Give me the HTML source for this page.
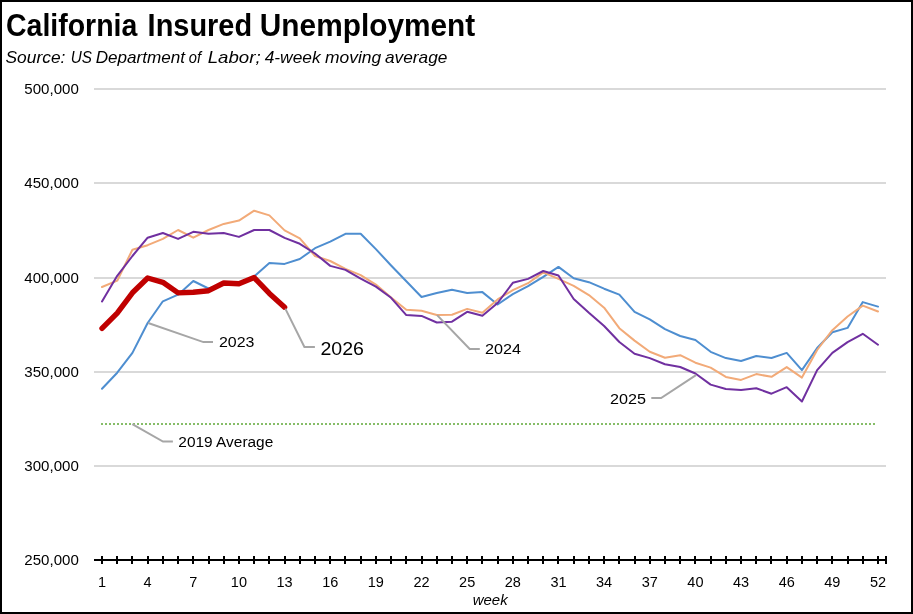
<!DOCTYPE html>
<html><head><meta charset="utf-8"><style>
html,body{margin:0;padding:0;background:#fff;}
svg{display:block;will-change:transform;}
text{font-family:"Liberation Sans", sans-serif;fill:#000;}
</style></head><body>
<svg width="913" height="614" viewBox="0 0 913 614">
<rect x="0" y="0" width="913" height="614" fill="#fff"/>
<rect x="1" y="1" width="911" height="612" fill="none" stroke="#000" stroke-width="2"/>
<text x="6.00" y="35.8" font-size="30.5" font-weight="bold" textLength="131.34" lengthAdjust="spacingAndGlyphs">California</text>
<text x="147.60" y="35.8" font-size="30.5" font-weight="bold" textLength="104.57" lengthAdjust="spacingAndGlyphs">Insured</text>
<text x="259.80" y="35.8" font-size="30.5" font-weight="bold" textLength="215.46" lengthAdjust="spacingAndGlyphs">Unemployment</text>
<text x="5.50" y="63.1" font-size="16.5" font-style="italic" textLength="59.90" lengthAdjust="spacingAndGlyphs">Source:</text>
<text x="70.80" y="63.1" font-size="16.5" font-style="italic" textLength="21.18" lengthAdjust="spacingAndGlyphs">US</text>
<text x="95.70" y="63.1" font-size="16.5" font-style="italic" textLength="89.40" lengthAdjust="spacingAndGlyphs">Department</text>
<text x="188.80" y="63.1" font-size="16.5" font-style="italic" textLength="12.26" lengthAdjust="spacingAndGlyphs">of</text>
<text x="207.70" y="63.1" font-size="16.5" font-style="italic" textLength="52.93" lengthAdjust="spacingAndGlyphs">Labor;</text>
<text x="264.70" y="63.1" font-size="16.5" font-style="italic" textLength="55.95" lengthAdjust="spacingAndGlyphs">4-week</text>
<text x="325.00" y="63.1" font-size="16.5" font-style="italic" textLength="56.16" lengthAdjust="spacingAndGlyphs">moving</text>
<text x="384.90" y="63.1" font-size="16.5" font-style="italic" textLength="62.51" lengthAdjust="spacingAndGlyphs">average</text>

<line x1="94" y1="89" x2="886" y2="89" stroke="#D9D9D9" stroke-width="2"/>
<line x1="94" y1="183" x2="886" y2="183" stroke="#D9D9D9" stroke-width="2"/>
<line x1="94" y1="278" x2="886" y2="278" stroke="#D9D9D9" stroke-width="2"/>
<line x1="94" y1="372" x2="886" y2="372" stroke="#D9D9D9" stroke-width="2"/>
<line x1="94" y1="466" x2="886" y2="466" stroke="#D9D9D9" stroke-width="2"/>

<text x="78.8" y="94.3" text-anchor="end" font-size="15.4" textLength="54.5" lengthAdjust="spacingAndGlyphs">500,000</text>
<text x="78.8" y="188.1" text-anchor="end" font-size="15.4" textLength="54.5" lengthAdjust="spacingAndGlyphs">450,000</text>
<text x="78.8" y="282.9" text-anchor="end" font-size="15.4" textLength="54.5" lengthAdjust="spacingAndGlyphs">400,000</text>
<text x="78.8" y="377.1" text-anchor="end" font-size="15.4" textLength="54.5" lengthAdjust="spacingAndGlyphs">350,000</text>
<text x="78.8" y="471.2" text-anchor="end" font-size="15.4" textLength="54.5" lengthAdjust="spacingAndGlyphs">300,000</text>
<text x="78.8" y="565.2" text-anchor="end" font-size="15.4" textLength="54.5" lengthAdjust="spacingAndGlyphs">250,000</text>

<line x1="101" y1="424" x2="876" y2="424" stroke="#86BD68" stroke-width="2" stroke-dasharray="2,2"/>
<polyline points="102.00,388.80 117.22,372.70 132.43,352.90 147.65,323.00 162.86,301.30 178.08,294.70 193.29,281.00 208.51,288.50 223.73,284.00 238.94,284.50 254.16,276.40 269.37,263.00 284.59,263.90 299.80,259.00 315.02,248.20 330.24,241.70 345.45,233.80 360.67,233.80 375.88,249.10 391.10,265.50 406.31,281.30 421.53,297.00 436.75,293.00 451.96,289.70 467.18,293.10 482.39,292.10 497.61,304.50 512.82,294.10 528.04,286.20 543.25,276.90 558.47,266.90 573.69,278.30 588.90,282.20 604.12,288.70 619.33,294.60 634.55,311.80 649.76,319.30 664.98,329.10 680.20,336.00 695.41,340.00 710.63,351.80 725.84,358.10 741.06,361.00 756.27,356.00 771.49,358.00 786.71,352.90 801.92,370.10 817.14,348.00 832.35,332.20 847.57,327.90 862.78,302.10 878.00,306.60" fill="none" stroke="#4E8ED0" stroke-width="2" stroke-linejoin="round" stroke-linecap="round"/>
<polyline points="102.00,287.00 117.22,280.70 132.43,249.70 147.65,245.20 162.86,238.90 178.08,230.00 193.29,237.70 208.51,230.00 223.73,223.90 238.94,220.60 254.16,210.70 269.37,215.40 284.59,230.40 299.80,238.30 315.02,256.00 330.24,261.00 345.45,268.90 360.67,275.20 375.88,284.60 391.10,297.60 406.31,309.80 421.53,310.80 436.75,315.00 451.96,314.80 467.18,308.90 482.39,312.80 497.61,299.40 512.82,290.10 528.04,283.20 543.25,272.40 558.47,278.90 573.69,285.80 588.90,295.10 604.12,307.70 619.33,328.20 634.55,340.60 649.76,351.80 664.98,357.70 680.20,355.20 695.41,362.70 710.63,367.60 725.84,376.90 741.06,379.90 756.27,374.10 771.49,376.80 786.71,367.10 801.92,377.60 817.14,350.00 832.35,330.20 847.57,316.50 862.78,305.60 878.00,311.50" fill="none" stroke="#F2AA78" stroke-width="2" stroke-linejoin="round" stroke-linecap="round"/>
<polyline points="102.00,301.40 117.22,275.80 132.43,256.00 147.65,237.70 162.86,233.00 178.08,238.90 193.29,231.80 208.51,233.80 223.73,233.00 238.94,236.90 254.16,230.00 269.37,230.00 284.59,237.90 299.80,243.80 315.02,253.50 330.24,265.90 345.45,269.90 360.67,278.70 375.88,286.60 391.10,297.80 406.31,315.10 421.53,315.90 436.75,322.50 451.96,321.70 467.18,311.80 482.39,315.80 497.61,303.00 512.82,282.80 528.04,278.90 543.25,271.00 558.47,275.50 573.69,299.00 588.90,312.80 604.12,326.00 619.33,342.00 634.55,353.80 649.76,358.10 664.98,364.20 680.20,367.00 695.41,373.50 710.63,384.60 725.84,389.00 741.06,390.00 756.27,388.30 771.49,393.70 786.71,387.20 801.92,401.50 817.14,370.10 832.35,352.90 847.57,342.10 862.78,333.80 878.00,344.70" fill="none" stroke="#7030A0" stroke-width="2" stroke-linejoin="round" stroke-linecap="round"/>
<polyline points="102.00,328.30 117.22,313.10 132.43,292.80 147.65,278.00 162.86,282.30 178.08,292.90 193.29,292.30 208.51,290.70 223.73,283.00 238.94,283.70 254.16,277.60 269.37,293.40 284.59,307.20" fill="none" stroke="#C00000" stroke-width="5.4" stroke-linejoin="round" stroke-linecap="round"/>
<polyline points="148.2,323 203.4,342.1 213,342.1" fill="none" stroke="#A6A6A6" stroke-width="2"/>
<polyline points="285.3,308.6 304.4,347 314.9,347" fill="none" stroke="#A6A6A6" stroke-width="2"/>
<polyline points="437.1,315.1 469.7,349 479.8,349" fill="none" stroke="#A6A6A6" stroke-width="2"/>
<polyline points="132.3,424.1 163,441.6 172.9,441.6" fill="none" stroke="#A6A6A6" stroke-width="2"/>
<polyline points="696,375.1 661.1,398.1 651.3,398.1" fill="none" stroke="#A6A6A6" stroke-width="2"/>
<text x="219" y="347" font-size="15.3" textLength="35.5" lengthAdjust="spacingAndGlyphs">2023</text>
<text x="320.5" y="354.9" font-size="18" textLength="43.5" lengthAdjust="spacingAndGlyphs">2026</text>
<text x="485" y="353.9" font-size="15.3" textLength="36" lengthAdjust="spacingAndGlyphs">2024</text>
<text x="178.3" y="447.1" font-size="15.3" textLength="95" lengthAdjust="spacingAndGlyphs">2019 Average</text>
<text x="610" y="403.6" font-size="15.3" textLength="36" lengthAdjust="spacingAndGlyphs">2025</text>
<line x1="94" y1="560" x2="887" y2="560" stroke="#000" stroke-width="2"/>
<line x1="102" y1="556" x2="102" y2="564" stroke="#000" stroke-width="2"/><line x1="117" y1="556" x2="117" y2="564" stroke="#000" stroke-width="2"/><line x1="132" y1="556" x2="132" y2="564" stroke="#000" stroke-width="2"/><line x1="148" y1="556" x2="148" y2="564" stroke="#000" stroke-width="2"/><line x1="163" y1="556" x2="163" y2="564" stroke="#000" stroke-width="2"/><line x1="178" y1="556" x2="178" y2="564" stroke="#000" stroke-width="2"/><line x1="193" y1="556" x2="193" y2="564" stroke="#000" stroke-width="2"/><line x1="209" y1="556" x2="209" y2="564" stroke="#000" stroke-width="2"/><line x1="224" y1="556" x2="224" y2="564" stroke="#000" stroke-width="2"/><line x1="239" y1="556" x2="239" y2="564" stroke="#000" stroke-width="2"/><line x1="254" y1="556" x2="254" y2="564" stroke="#000" stroke-width="2"/><line x1="269" y1="556" x2="269" y2="564" stroke="#000" stroke-width="2"/><line x1="285" y1="556" x2="285" y2="564" stroke="#000" stroke-width="2"/><line x1="300" y1="556" x2="300" y2="564" stroke="#000" stroke-width="2"/><line x1="315" y1="556" x2="315" y2="564" stroke="#000" stroke-width="2"/><line x1="330" y1="556" x2="330" y2="564" stroke="#000" stroke-width="2"/><line x1="345" y1="556" x2="345" y2="564" stroke="#000" stroke-width="2"/><line x1="361" y1="556" x2="361" y2="564" stroke="#000" stroke-width="2"/><line x1="376" y1="556" x2="376" y2="564" stroke="#000" stroke-width="2"/><line x1="391" y1="556" x2="391" y2="564" stroke="#000" stroke-width="2"/><line x1="406" y1="556" x2="406" y2="564" stroke="#000" stroke-width="2"/><line x1="422" y1="556" x2="422" y2="564" stroke="#000" stroke-width="2"/><line x1="437" y1="556" x2="437" y2="564" stroke="#000" stroke-width="2"/><line x1="452" y1="556" x2="452" y2="564" stroke="#000" stroke-width="2"/><line x1="467" y1="556" x2="467" y2="564" stroke="#000" stroke-width="2"/><line x1="482" y1="556" x2="482" y2="564" stroke="#000" stroke-width="2"/><line x1="498" y1="556" x2="498" y2="564" stroke="#000" stroke-width="2"/><line x1="513" y1="556" x2="513" y2="564" stroke="#000" stroke-width="2"/><line x1="528" y1="556" x2="528" y2="564" stroke="#000" stroke-width="2"/><line x1="543" y1="556" x2="543" y2="564" stroke="#000" stroke-width="2"/><line x1="558" y1="556" x2="558" y2="564" stroke="#000" stroke-width="2"/><line x1="574" y1="556" x2="574" y2="564" stroke="#000" stroke-width="2"/><line x1="589" y1="556" x2="589" y2="564" stroke="#000" stroke-width="2"/><line x1="604" y1="556" x2="604" y2="564" stroke="#000" stroke-width="2"/><line x1="619" y1="556" x2="619" y2="564" stroke="#000" stroke-width="2"/><line x1="635" y1="556" x2="635" y2="564" stroke="#000" stroke-width="2"/><line x1="650" y1="556" x2="650" y2="564" stroke="#000" stroke-width="2"/><line x1="665" y1="556" x2="665" y2="564" stroke="#000" stroke-width="2"/><line x1="680" y1="556" x2="680" y2="564" stroke="#000" stroke-width="2"/><line x1="695" y1="556" x2="695" y2="564" stroke="#000" stroke-width="2"/><line x1="711" y1="556" x2="711" y2="564" stroke="#000" stroke-width="2"/><line x1="726" y1="556" x2="726" y2="564" stroke="#000" stroke-width="2"/><line x1="741" y1="556" x2="741" y2="564" stroke="#000" stroke-width="2"/><line x1="756" y1="556" x2="756" y2="564" stroke="#000" stroke-width="2"/><line x1="771" y1="556" x2="771" y2="564" stroke="#000" stroke-width="2"/><line x1="787" y1="556" x2="787" y2="564" stroke="#000" stroke-width="2"/><line x1="802" y1="556" x2="802" y2="564" stroke="#000" stroke-width="2"/><line x1="817" y1="556" x2="817" y2="564" stroke="#000" stroke-width="2"/><line x1="832" y1="556" x2="832" y2="564" stroke="#000" stroke-width="2"/><line x1="848" y1="556" x2="848" y2="564" stroke="#000" stroke-width="2"/><line x1="863" y1="556" x2="863" y2="564" stroke="#000" stroke-width="2"/><line x1="878" y1="556" x2="878" y2="564" stroke="#000" stroke-width="2"/><line x1="886" y1="556" x2="886" y2="564" stroke="#000" stroke-width="2"/>
<text x="102.00" y="586.5" text-anchor="middle" font-size="14.5">1</text><text x="147.65" y="586.5" text-anchor="middle" font-size="14.5">4</text><text x="193.29" y="586.5" text-anchor="middle" font-size="14.5">7</text><text x="238.94" y="586.5" text-anchor="middle" font-size="14.5">10</text><text x="284.59" y="586.5" text-anchor="middle" font-size="14.5">13</text><text x="330.24" y="586.5" text-anchor="middle" font-size="14.5">16</text><text x="375.88" y="586.5" text-anchor="middle" font-size="14.5">19</text><text x="421.53" y="586.5" text-anchor="middle" font-size="14.5">22</text><text x="467.18" y="586.5" text-anchor="middle" font-size="14.5">25</text><text x="512.82" y="586.5" text-anchor="middle" font-size="14.5">28</text><text x="558.47" y="586.5" text-anchor="middle" font-size="14.5">31</text><text x="604.12" y="586.5" text-anchor="middle" font-size="14.5">34</text><text x="649.76" y="586.5" text-anchor="middle" font-size="14.5">37</text><text x="695.41" y="586.5" text-anchor="middle" font-size="14.5">40</text><text x="741.06" y="586.5" text-anchor="middle" font-size="14.5">43</text><text x="786.71" y="586.5" text-anchor="middle" font-size="14.5">46</text><text x="832.35" y="586.5" text-anchor="middle" font-size="14.5">49</text><text x="878.00" y="586.5" text-anchor="middle" font-size="14.5">52</text>
<text x="490.2" y="604.6" text-anchor="middle" font-size="15" font-style="italic">week</text>
</svg>
</body></html>
